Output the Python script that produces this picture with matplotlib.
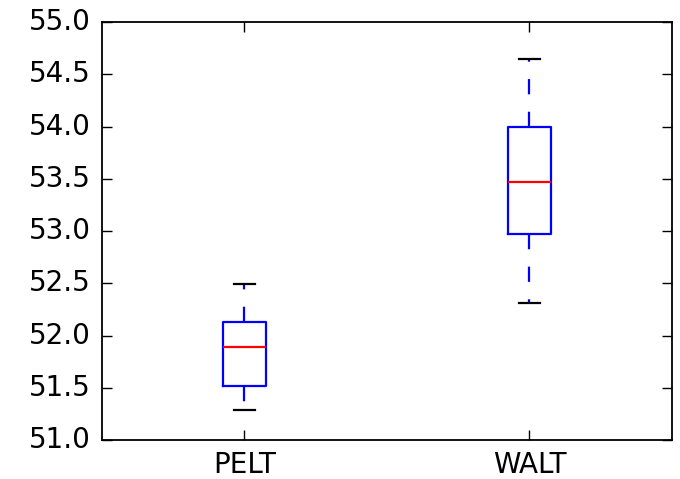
import matplotlib
matplotlib.use("Agg")
import matplotlib.pyplot as plt

# values
categories = ["PELT", "WALT"]
whislo = [51.29, 52.31]
q1 = [51.52, 52.97]
medians = [51.89, 53.47]
q3 = [52.13, 54.00]
whishi = [52.49, 54.65]

plt.style.use("classic")
plt.rcParams["font.family"] = ["DejaVu Sans"]
plt.rcParams["lines.scale_dashes"] = False

fig = plt.figure(figsize=(6.8, 4.79), dpi=100, facecolor="white")
ax = fig.add_axes([0.15, 0.081, 0.838, 0.873])

stats = []
for name, lo, a, m, b, hi in zip(categories, whislo, q1, medians, q3, whishi):
    stats.append({"label": name, "whislo": lo, "q1": a, "med": m,
                  "q3": b, "whishi": hi, "fliers": []})

lw = 1.6
ax.bxp(stats, widths=0.15, showfliers=False,
       boxprops=dict(color="blue", linewidth=lw),
       medianprops=dict(color="red", linewidth=lw),
       whiskerprops=dict(color="blue", linewidth=lw, linestyle=(0, (11, 12.5))),
       capprops=dict(color="black", linewidth=lw))

ax.set_ylim(51.0, 55.0)
ax.set_xlim(0.5, 2.5)
ax.set_yticks([51.0, 51.5, 52.0, 52.5, 53.0, 53.5, 54.0, 54.5, 55.0])
ax.yaxis.set_major_formatter(matplotlib.ticker.FormatStrFormatter("%.1f"))
ax.tick_params(labelsize=20, length=7, width=1, direction="in")
ax.tick_params(axis="y", pad=8)
ax.tick_params(axis="x", pad=8)
for s in ax.spines.values():
    s.set_linewidth(1.3)

fig.savefig("out.png", dpi=100, facecolor="white")
